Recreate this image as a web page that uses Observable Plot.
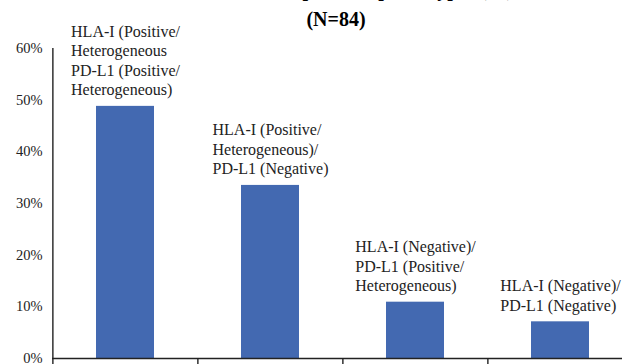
<!DOCTYPE html>
<html><head><meta charset="utf-8">
<script src="https://cdn.jsdelivr.net/npm/d3@7"></script>
<script src="https://cdn.jsdelivr.net/npm/@observablehq/plot@0.6"></script>
<style>
html,body{margin:0;padding:0;background:#fff;overflow:hidden;}
#chart{width:622px;height:364px;overflow:hidden;}
#chart svg, #chart svg text{font-family:"Liberation Serif","Times New Roman",serif !important;}
</style></head><body><div id="chart"></div>
<script>
const categories = [
  "HLA-I (Positive/\nHeterogeneous\nPD-L1 (Positive/\nHeterogeneous)",
  "HLA-I (Positive/\nHeterogeneous)/\nPD-L1 (Negative)",
  "HLA-I (Negative)/\nPD-L1 (Positive/\nHeterogeneous)",
  "HLA-I (Negative)/\nPD-L1 (Negative)"
];
const values = [0.488, 0.335, 0.109, 0.071];
const yTicks = [0, 0.1, 0.2, 0.3, 0.4, 0.5, 0.6];
const titleLines = ["HLA-I/PD-L1 expression phenotypes (%)", "(N=84)"];

const W = 622, H = 364, mL = 52, mR = -11, mT = 48, mB = 6;
const font = '"Liberation Serif", "Times New Roman", serif';
const labelSize = 16;
const step = (W - mL - mR) / categories.length;
const ctx = document.createElement("canvas").getContext("2d");
ctx.font = labelSize + 'px "Liberation Serif"';
const blockW = categories.map(c => Math.max(...c.split("\n").map(l => ctx.measureText(l).width)));
const rows = categories.map((c, i) => ({cat: c, value: values[i]}));

const chart = Plot.plot({
  width: W, height: H,
  marginLeft: mL, marginRight: mR, marginTop: mT, marginBottom: mB,
  style: {fontFamily: font, fontSize: "14px", color: "#222", background: "#fff"},
  x: {domain: categories, paddingInner: 0.6, paddingOuter: 0.3, axis: null},
  y: {domain: [0, 0.6], axis: null},
  marks: [
    Plot.barY(rows, {x: "cat", y: "value", fill: "#4369B1"}),
    Plot.ruleY([0], {stroke: "#222", strokeWidth: 1.4}),
    Plot.ruleX([categories[0]], {x: d => d, y1: 0, y2: 0.6, dx: -step / 2, stroke: "#222", strokeWidth: 1.4}),
    Plot.axisY({ticks: yTicks, tickFormat: d3.format(".0%"), tickSize: 0, tickPadding: 10, fontSize: 14.5, fontFamily: font, fill: "#222", label: null}),
    Plot.axisX({tickSize: 6, tickFormat: () => "", dx: -step / 2, stroke: "#222", strokeWidth: 1.4, label: null}),
    ...rows.map((r, i) => Plot.text([r], {
      x: "cat", y: "value", text: "cat", textAnchor: "start", lineAnchor: "bottom",
      lineHeight: 1.22, dx: -blockW[i] / 2, dy: -11, fill: "#222", fontSize: labelSize, fontFamily: font
    })),
    Plot.text([titleLines.join("\n")], {
      frameAnchor: "top", text: d => d, lineAnchor: "bottom", lineHeight: 1.48,
      dy: -23, dx: -7, fontSize: 20, fontWeight: "bold", fill: "#000", fontFamily: font
    })
  ]
});
document.getElementById("chart").append(chart);
</script></body></html>
